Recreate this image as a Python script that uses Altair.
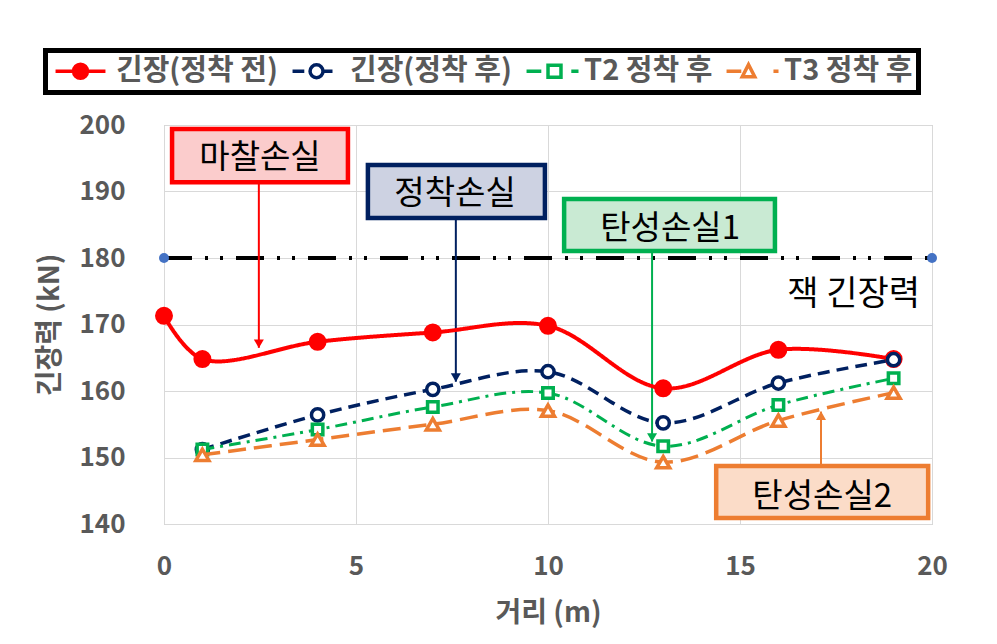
import altair as alt
import pandas as pd

# ---------------- data ----------------
series_names = ["긴장(정착 전)", "긴장(정착 후)", "T2 정착 후", "T3 정착 후"]
series_colors = ["#FF0000", "#002060", "#00B050", "#ED7D31"]

x_before = [0, 1, 4, 7, 10, 13, 16, 19]
y_before = [171.3, 164.8, 167.4, 168.8, 169.8, 160.4, 166.2, 164.8]

x_after = [1, 4, 7, 10, 13, 16, 19]
y_after = [151.2, 156.4, 160.25, 162.9, 155.2, 161.2, 164.7]
y_t2 = [151.2, 154.2, 157.6, 159.7, 151.7, 157.9, 161.9]
y_t3 = [150.4, 152.7, 155.0, 157.05, 149.3, 155.55, 159.75]

jack_x = [0, 20]
jack_y = [180, 180]
jack_label = "잭 긴장력"
jack_label_x = [17.96]
jack_label_y = [174.4]

box_labels = ["마찰손실", "정착손실", "탄성손실1", "탄성손실2"]
box_x1 = [0.21, 5.31, 10.42, 14.38]
box_x2 = [4.79, 9.92, 15.91, 19.90]
box_y1 = [199.4, 193.98, 188.87, 148.72]
box_y2 = [191.4, 186.02, 181.05, 140.9]
box_text_x = [2.5, 7.58, 13.18, 17.14]
box_text_y = [195.0, 189.6, 184.4, 144.1]
box_fill = ["#fbcccc", "#cdd2e2", "#c9ead3", "#fbdcc8"]

arrow_x = [2.47, 7.6, 12.71, 17.11]
arrow_from = [191.4, 186.02, 181.05, 148.72]
arrow_tip = [166.5, 161.4, 152.4, 156.9]
arrow_dir = ["down", "down", "down", "up"]

# ---------------- tables ----------------
rows = []
for xs, ys, name in [(x_before, y_before, series_names[0]),
                     (x_after, y_after, series_names[1]),
                     (x_after, y_t2, series_names[2]),
                     (x_after, y_t3, series_names[3])]:
    for xv, yv in zip(xs, ys):
        rows.append({"x": xv, "y": yv, "series": name})
df = pd.DataFrame(rows)

jack_df = pd.DataFrame({"x": jack_x, "y": jack_y})
jack_text_df = pd.DataFrame({"x": jack_label_x, "y": jack_label_y, "t": [jack_label]})

box_df = pd.DataFrame({"label": box_labels, "x": box_x1, "x2": box_x2,
                       "y": box_y1, "y2": box_y2, "tx": box_text_x, "ty": box_text_y,
                       "fill": box_fill, "stroke": series_colors})
arrow_df = pd.DataFrame({"x": arrow_x, "y": arrow_from, "y2": arrow_tip,
                         "dir": arrow_dir, "stroke": series_colors})

FONT = "Noto Sans CJK KR"
GRAY = "#595959"

xscale = alt.Scale(domain=[0, 20], nice=False, zero=False)
yscale = alt.Scale(domain=[140, 200], nice=False, zero=False)
xaxis = alt.Axis(values=[0, 5, 10, 15, 20], title="거리 (m)", grid=True, gridColor="#d9d9d9",
                 domain=False, ticks=False, tickSize=0, labelFont=FONT, labelFontSize=26,
                 labelFontWeight="bold", labelColor=GRAY, labelPadding=29, labelFlush=False,
                 titleFont=FONT, titleFontSize=28, titleFontWeight="bold", titleColor=GRAY,
                 titleX=384, titleY=89, titleBaseline="middle", titleAlign="center")
yaxis = alt.Axis(values=[140, 150, 160, 170, 180, 190, 200], title="긴장력 (kN)", grid=True,
                 gridColor="#d9d9d9", domain=False, ticks=False, tickSize=0, labelFont=FONT,
                 labelFontSize=26, labelFontWeight="bold", labelColor=GRAY, labelPadding=39,
                 labelFlush=False,
                 titleFont=FONT, titleFontSize=28, titleFontWeight="bold", titleColor=GRAY,
                 titleX=-114, titleY=199.5, titleAngle=270, titleBaseline="middle",
                 titleAlign="center")


def X(f="x"):
    return alt.X(f, type="quantitative", scale=xscale, axis=xaxis)


def Y(f="y"):
    return alt.Y(f, type="quantitative", scale=yscale, axis=yaxis)


layers = []

# jack tension line
layers.append(alt.Chart(jack_df).mark_line(color="black", strokeWidth=4,
                                           strokeDash=[28, 13, 3, 12, 3, 13]).encode(x=X(), y=Y()))
layers.append(alt.Chart(jack_df).mark_point(shape="circle", filled=True, color="#4472C4",
                                            size=100, opacity=1).encode(x=X(), y=Y()))
layers.append(alt.Chart(jack_text_df).mark_text(font=FONT, fontSize=34, color="black").encode(
    x=X(), y=Y(), text="t:N"))

# annotation boxes
layers.append(alt.Chart(box_df).mark_rect(strokeWidth=4.5).encode(
    x=X("x"), x2="x2", y=Y("y"), y2="y2",
    fill=alt.Fill("fill:N", scale=None), stroke=alt.Stroke("stroke:N", scale=None)))
layers.append(alt.Chart(box_df).mark_text(font=FONT, fontSize=33, color="black").encode(
    x=X("tx"), y=Y("ty"), text="label:N"))

# arrows
layers.append(alt.Chart(arrow_df).mark_rule(strokeWidth=2).encode(
    x=X("x"), y=Y("y"), y2="y2", color=alt.Color("stroke:N", scale=None)))
layers.append(alt.Chart(arrow_df).transform_filter("datum.dir == 'down'").mark_point(
    shape="triangle-down", filled=True, size=100, opacity=1, yOffset=-4).encode(
    x=X("x"), y=Y("y2"), color=alt.Color("stroke:N", scale=None)))
layers.append(alt.Chart(arrow_df).transform_filter("datum.dir == 'up'").mark_point(
    shape="triangle-up", filled=True, size=100, opacity=1, yOffset=4).encode(
    x=X("x"), y=Y("y2"), color=alt.Color("stroke:N", scale=None)))

# data series
dashes = [[1, 0], [12, 7], [12, 6, 3, 6], [18, 8]]
widths = [4, 3.5, 3, 3.5]
shapes = ["circle", "circle", "square", "triangle-up"]
sizes = [210, 150, 110, 170]
fills = [series_colors[0], "white", "white", "white"]
for name, col, dsh, w, shp, sz, fl in zip(series_names, series_colors, dashes, widths,
                                          shapes, sizes, fills):
    base = alt.Chart(df).transform_filter(alt.datum.series == name)
    layers.append(base.mark_line(color=col, strokeWidth=w, strokeDash=dsh,
                                 interpolate="catmull-rom").encode(x=X(), y=Y()))
    layers.append(base.mark_point(shape=shp, size=sz, fill=fl, stroke=col, strokeWidth=3.5,
                                  filled=False, opacity=1, fillOpacity=1).encode(x=X(), y=Y()))

# legend layer (invisible marks, legend only)
legend_paths = [
    "M-2.08,0H2.08M0.58,0A0.58,0.58 0 1 1 -0.58,0A0.58,0.58 0 1 1 0.58,0Z",
    "M-1.83,0H-0.85M0.71,0A0.54,0.54 0 1 1 -0.37,0A0.54,0.54 0 1 1 0.71,0ZM0.71,0H1.5",
    "M-1.83,0H-0.6M-0.04,-0.5H1.04V0.5H-0.04ZM1.9,0H2.5",
    "M-1.83,0H-0.6M0,-0.55L0.52,0.45H-0.52ZM2.08,0H2.5",
]
leg = dict(title=None, orient="none", direction="horizontal", legendX=-118.5, legendY=-74.5,
           symbolOpacity=1, symbolSize=576, symbolStrokeWidth=3.5, symbolOffset=14.5,
           labelLimit=400)
legend_df = pd.DataFrame({"series": series_names, "x": [0] * 4, "y": [140] * 4})
layers.append(alt.Chart(legend_df).mark_point(opacity=0, strokeWidth=3).encode(
    x=X(), y=Y(),
    stroke=alt.Stroke("series:N", scale=alt.Scale(domain=series_names, range=series_colors),
                      legend=alt.Legend(**leg)),
    fill=alt.Fill("series:N", scale=alt.Scale(domain=series_names,
                                              range=[series_colors[0], "white", "white", "white"]),
                  legend=alt.Legend(**leg)),
    shape=alt.Shape("series:N", scale=alt.Scale(domain=series_names, range=legend_paths),
                    legend=alt.Legend(**leg)),
))

chart = alt.layer(*layers).properties(
    width=768, height=399,
    padding={"left": 164, "top": 125, "right": 65, "bottom": 120},
    autosize=alt.AutoSizeParams(type="none"),
).configure_view(stroke="#bfbfbf", strokeWidth=1).configure_legend(
    strokeColor="black", strokeWidth=5, fillColor="white", padding=6,
    labelFont=FONT, labelFontSize=29, labelFontWeight="bold", labelColor=GRAY,
    labelOffset=21, columnPadding=7, labelLimit=400,
)

chart.save("out.html", embed_options={"renderer": "svg", "actions": False})
